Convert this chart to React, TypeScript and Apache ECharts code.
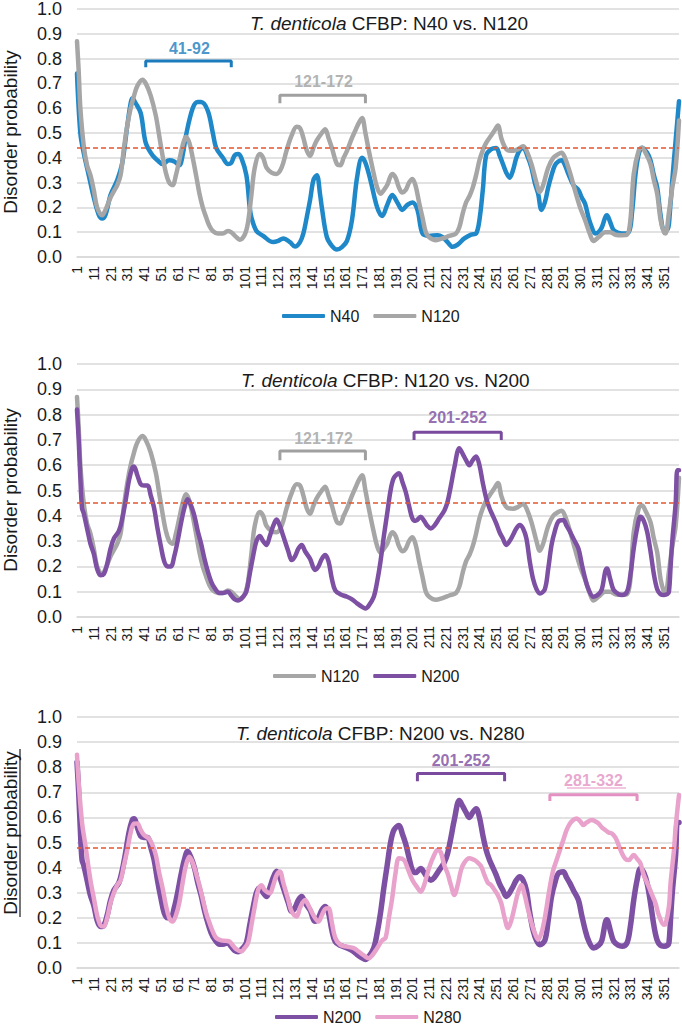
import React, { useEffect, useRef } from "react";
import * as echarts from "echarts";

// residue numbers 1..360 (category axis)
const categories: string[] = Array.from({ length: 360 }, (_, i) => String(i + 1));

// [residue, disorder probability]
const n40: [number, number][] = [
  [1, 0.74], [3, 0.5], [5, 0.42], [8, 0.33], [11, 0.24], [14, 0.17], [16, 0.155], [18, 0.17], [21, 0.25], [25, 0.31],
  [28, 0.38], [31, 0.53], [33, 0.62], [34, 0.64], [36, 0.62], [39, 0.58], [42, 0.46], [46, 0.41], [49, 0.39], [52, 0.375],
  [56, 0.39], [59, 0.385], [62, 0.37], [64, 0.41], [66, 0.49], [70, 0.6], [73, 0.625], [75, 0.625], [79, 0.59], [82, 0.5],
  [84, 0.44], [88, 0.4], [91, 0.375], [93, 0.38], [95, 0.41], [97, 0.415], [99, 0.4], [102, 0.33], [104, 0.2], [105, 0.16],
  [108, 0.105], [112, 0.085], [118, 0.06], [121, 0.065], [124, 0.075], [128, 0.06], [131, 0.042], [134, 0.06], [136, 0.095],
  [138, 0.16], [140, 0.23], [142, 0.31], [144, 0.33], [146, 0.25], [147, 0.2], [150, 0.08], [153, 0.045], [156, 0.03],
  [159, 0.04], [162, 0.065], [165, 0.15], [168, 0.32], [171, 0.4], [173, 0.38], [176, 0.31], [180, 0.2], [183, 0.165],
  [186, 0.21], [189, 0.25], [192, 0.22], [195, 0.19], [198, 0.21], [201, 0.22], [204, 0.19], [207, 0.095], [211, 0.085],
  [216, 0.088], [219, 0.08], [222, 0.06], [225, 0.041], [228, 0.05], [232, 0.075], [236, 0.09], [239, 0.095], [241, 0.15],
  [243, 0.27], [245, 0.41], [248, 0.435], [251, 0.44], [253, 0.41], [255, 0.375], [257, 0.34], [259, 0.32], [261, 0.35],
  [263, 0.4], [265, 0.43], [267, 0.44], [270, 0.4], [272, 0.36], [274, 0.3], [276, 0.255], [278, 0.19], [280, 0.22],
  [282, 0.28], [284, 0.33], [286, 0.37], [288, 0.385], [290, 0.39], [292, 0.37], [294, 0.335], [297, 0.29], [300, 0.27],
  [302, 0.24], [304, 0.215], [306, 0.16], [308, 0.12], [310, 0.095], [312, 0.1], [314, 0.12], [316, 0.16], [317, 0.168],
  [319, 0.14], [321, 0.108], [324, 0.097], [326, 0.095], [330, 0.1], [332, 0.18], [334, 0.33], [336, 0.415], [338, 0.441],
  [341, 0.42], [343, 0.39], [345, 0.33], [347, 0.28], [349, 0.17], [351, 0.11], [353, 0.11], [355, 0.22], [356, 0.31],
  [358, 0.47], [360, 0.628],
];

const n120: [number, number][] = [
  [1, 0.87], [2, 0.75], [3, 0.6], [5, 0.45], [7, 0.37], [9, 0.33], [11, 0.27], [13, 0.2], [16, 0.168], [18, 0.19],
  [21, 0.24], [23, 0.265], [25, 0.29], [27, 0.33], [29, 0.44], [31, 0.53], [33, 0.6], [35, 0.65], [37, 0.69], [40, 0.715],
  [42, 0.7], [45, 0.65], [48, 0.57], [50, 0.49], [52, 0.41], [54, 0.34], [56, 0.3], [58, 0.29], [60, 0.33], [62, 0.39],
  [64, 0.45], [66, 0.485], [68, 0.46], [70, 0.4], [72, 0.33], [74, 0.256], [76, 0.2], [78, 0.16], [80, 0.125], [82, 0.105],
  [85, 0.095], [88, 0.095], [91, 0.105], [93, 0.1], [96, 0.08], [98, 0.07], [101, 0.09], [103, 0.14], [105, 0.25],
  [107, 0.36], [110, 0.415], [112, 0.4], [114, 0.36], [117, 0.34], [120, 0.335], [123, 0.36], [126, 0.43], [129, 0.49],
  [132, 0.525], [134, 0.52], [136, 0.48], [138, 0.43], [140, 0.408], [142, 0.44], [144, 0.47], [147, 0.5], [149, 0.515],
  [151, 0.48], [153, 0.44], [156, 0.375], [158, 0.37], [160, 0.4], [162, 0.428], [165, 0.48], [167, 0.51], [169, 0.54],
  [171, 0.56], [173, 0.5], [175, 0.43], [178, 0.335], [180, 0.28], [182, 0.255], [184, 0.27], [186, 0.29], [189, 0.335],
  [191, 0.32], [193, 0.28], [195, 0.26], [197, 0.27], [199, 0.3], [201, 0.315], [203, 0.285], [205, 0.22], [207, 0.16],
  [209, 0.1], [211, 0.08], [215, 0.068], [219, 0.075], [223, 0.085], [227, 0.095], [229, 0.12], [231, 0.175], [233, 0.22],
  [235, 0.245], [237, 0.28], [239, 0.33], [241, 0.39], [243, 0.43], [245, 0.46], [248, 0.49], [250, 0.51], [252, 0.53],
  [254, 0.48], [256, 0.445], [258, 0.43], [261, 0.428], [264, 0.435], [267, 0.447], [269, 0.43], [272, 0.375], [275, 0.3],
  [277, 0.262], [279, 0.29], [282, 0.36], [285, 0.4], [288, 0.415], [290, 0.42], [292, 0.4], [295, 0.34], [298, 0.268],
  [301, 0.2], [304, 0.148], [307, 0.09], [309, 0.065], [312, 0.08], [316, 0.1], [319, 0.1], [322, 0.09], [326, 0.088],
  [329, 0.09], [331, 0.148], [333, 0.335], [336, 0.43], [338, 0.441], [340, 0.42], [343, 0.375], [345, 0.31], [347, 0.255],
  [349, 0.15], [351, 0.1], [352, 0.095], [354, 0.18], [356, 0.28], [358, 0.36], [360, 0.55],
];

const n200: [number, number][] = [
  [1, 0.82], [2, 0.7], [3, 0.55], [4, 0.43], [5, 0.41], [7, 0.35], [9, 0.29], [11, 0.25], [13, 0.19], [15, 0.165],
  [17, 0.17], [19, 0.21], [21, 0.27], [23, 0.31], [26, 0.34], [28, 0.39], [30, 0.46], [32, 0.54], [34, 0.59], [35, 0.595],
  [37, 0.56], [39, 0.525], [41, 0.52], [43, 0.52], [45, 0.48], [47, 0.43], [49, 0.35], [51, 0.28], [53, 0.22], [55, 0.2],
  [57, 0.2], [59, 0.24], [61, 0.3], [63, 0.37], [65, 0.43], [67, 0.465], [69, 0.44], [71, 0.4], [73, 0.34], [75, 0.29],
  [77, 0.23], [79, 0.18], [81, 0.14], [83, 0.115], [86, 0.095], [88, 0.095], [91, 0.1], [93, 0.085], [95, 0.07], [97, 0.065],
  [100, 0.08], [102, 0.1], [104, 0.17], [106, 0.24], [108, 0.3], [110, 0.32], [112, 0.3], [114, 0.285], [116, 0.32],
  [118, 0.36], [120, 0.385], [122, 0.36], [124, 0.32], [127, 0.26], [129, 0.225], [131, 0.24], [133, 0.27], [135, 0.285],
  [137, 0.26], [140, 0.23], [143, 0.186], [145, 0.2], [147, 0.23], [149, 0.245], [151, 0.22], [153, 0.15], [155, 0.105],
  [158, 0.09], [162, 0.08], [165, 0.07], [168, 0.054], [171, 0.04], [173, 0.034], [175, 0.045], [178, 0.08], [180, 0.14],
  [182, 0.22], [184, 0.32], [186, 0.41], [188, 0.5], [190, 0.55], [193, 0.568], [195, 0.535], [197, 0.495], [199, 0.44],
  [201, 0.39], [203, 0.38], [206, 0.396], [208, 0.38], [210, 0.36], [212, 0.35], [214, 0.36], [217, 0.39], [220, 0.42],
  [222, 0.456], [224, 0.52], [226, 0.59], [229, 0.667], [231, 0.645], [233, 0.62], [235, 0.6], [237, 0.62], [239, 0.634],
  [241, 0.6], [243, 0.53], [245, 0.47], [247, 0.43], [249, 0.4], [251, 0.37], [253, 0.335], [255, 0.31], [257, 0.285],
  [259, 0.3], [261, 0.324], [263, 0.35], [265, 0.364], [267, 0.35], [269, 0.31], [271, 0.22], [273, 0.15], [275, 0.11],
  [277, 0.093], [280, 0.11], [282, 0.19], [284, 0.285], [286, 0.34], [288, 0.377], [291, 0.383], [293, 0.36], [295, 0.337],
  [297, 0.31], [300, 0.271], [302, 0.21], [304, 0.153], [306, 0.11], [309, 0.08], [312, 0.09], [314, 0.11], [316, 0.18],
  [317, 0.192], [319, 0.15], [321, 0.107], [324, 0.09], [326, 0.087], [329, 0.1], [331, 0.166], [333, 0.27], [335, 0.35],
  [337, 0.396], [339, 0.38], [341, 0.337], [343, 0.26], [345, 0.17], [347, 0.11], [349, 0.09], [351, 0.087], [353, 0.09],
  [354, 0.1], [355, 0.2], [356, 0.3], [358, 0.45], [359, 0.58], [360, 0.58],
];

const n280: [number, number][] = [
  [1, 0.85], [2, 0.74], [4, 0.58], [6, 0.49], [9, 0.35], [11, 0.28], [13, 0.21], [15, 0.17], [17, 0.165], [19, 0.2],
  [21, 0.26], [23, 0.3], [25, 0.33], [27, 0.35], [29, 0.41], [31, 0.47], [33, 0.54], [35, 0.575], [37, 0.576], [39, 0.55],
  [41, 0.53], [44, 0.515], [46, 0.49], [48, 0.45], [50, 0.38], [52, 0.32], [54, 0.25], [56, 0.2], [58, 0.185], [60, 0.21],
  [62, 0.26], [64, 0.34], [66, 0.41], [68, 0.443], [70, 0.42], [72, 0.377], [74, 0.33], [76, 0.275], [78, 0.22], [80, 0.18],
  [82, 0.145], [84, 0.12], [87, 0.11], [90, 0.108], [92, 0.105], [94, 0.09], [96, 0.075], [99, 0.066], [101, 0.08],
  [103, 0.1], [105, 0.17], [107, 0.245], [109, 0.31], [111, 0.33], [113, 0.31], [116, 0.298], [118, 0.33], [120, 0.37],
  [122, 0.384], [124, 0.34], [127, 0.271], [129, 0.225], [132, 0.205], [134, 0.24], [137, 0.271], [139, 0.25], [142, 0.21],
  [145, 0.185], [147, 0.21], [149, 0.235], [151, 0.238], [153, 0.18], [155, 0.12], [158, 0.092], [162, 0.085], [166, 0.079],
  [169, 0.065], [172, 0.05], [175, 0.039], [177, 0.05], [180, 0.079], [183, 0.11], [185, 0.12], [187, 0.2], [189, 0.28],
  [191, 0.38], [193, 0.437], [196, 0.43], [198, 0.4], [201, 0.351], [204, 0.32], [206, 0.304], [208, 0.33], [211, 0.4],
  [214, 0.45], [216, 0.47], [218, 0.46], [220, 0.41], [222, 0.377], [224, 0.33], [226, 0.291], [228, 0.33], [230, 0.39],
  [232, 0.42], [235, 0.437], [238, 0.43], [240, 0.42], [242, 0.405], [244, 0.37], [246, 0.34], [248, 0.33], [250, 0.311],
  [252, 0.29], [254, 0.258], [256, 0.2], [258, 0.159], [260, 0.19], [262, 0.245], [264, 0.3], [266, 0.331], [268, 0.29],
  [270, 0.232], [272, 0.18], [274, 0.139], [276, 0.113], [278, 0.14], [280, 0.2], [283, 0.324], [285, 0.39], [287, 0.43],
  [289, 0.47], [291, 0.51], [293, 0.55], [295, 0.576], [297, 0.59], [299, 0.596], [301, 0.585], [303, 0.57], [305, 0.58],
  [308, 0.59], [310, 0.585], [312, 0.576], [314, 0.56], [316, 0.55], [318, 0.54], [320, 0.536], [322, 0.52], [324, 0.49],
  [326, 0.457], [328, 0.435], [330, 0.43], [333, 0.45], [335, 0.435], [337, 0.417], [339, 0.37], [342, 0.324], [344, 0.29],
  [346, 0.258], [348, 0.21], [351, 0.172], [352, 0.175], [354, 0.245], [355, 0.34], [357, 0.47], [358, 0.56], [360, 0.689],
];

const panelTitles = ["N40 vs. N120", "N120 vs. N200", "N200 vs. N280"];
const panelSeries = [["N40", "N120"], ["N120", "N200"], ["N200", "N280"]];
const thresholds = [0.44, 0.45, 0.48];
const yTicks = [0, 0.1, 0.2, 0.3, 0.4, 0.5, 0.6, 0.7, 0.8, 0.9, 1.0];
const yAxisTitle = "Disorder probability";

// bracket annotations
const bracketPanel = [0, 0, 1, 1, 2, 2];
const bracketText = ["41-92", "121-172", "121-172", "201-252", "201-252", "281-332"];
const bracketFrom = [42, 122, 122, 202, 204, 283];
const bracketTo = [93, 173, 173, 254, 256, 335];
const bracketLineY = [0.79, 0.652, 0.656, 0.73, 0.775, 0.69];
const bracketTickY = [0.765, 0.62, 0.62, 0.7, 0.744, 0.665];
const bracketLabelY = [0.84, 0.708, 0.706, 0.79, 0.828, 0.748];

const COLORS: Record<string, string> = {
  N40: "#1f88c9",
  N120: "#a6a6a6",
  N200: "#7d50a4",
  N280: "#e8a2cb",
};
const BRACKET_COLORS = ["#1b7bbd", "#a0a0a0", "#a0a0a0", "#7a4a9e", "#7a4a9e", "#e391c2"];

const DATA: Record<string, [number, number][]> = { N40: n40, N120: n120, N200: n200, N280: n280 };

const FONT = "'Liberation Sans', Arial, sans-serif";
const TXT = "#1a1a1a";
const GRID_TOP = [7, 364, 717];
const GRID_H = [250, 253, 251];
const TITLE_LEFT = [245, 236, 231];
const LEGEND_LEFT = [277, 268, 270];
const LEGEND_TOP = [303, 663, 1004];
const YNAME_CY = [132, 490, 833];

export default function App() {
  const ref = useRef<HTMLDivElement>(null);
  useEffect(() => {
    if (!ref.current) return;
    const chart = echarts.init(ref.current, undefined, { renderer: "svg" });

    const grids = GRID_TOP.map((t, i) => ({ left: 77, right: 3, top: t, height: GRID_H[i], containLabel: false }));
    const xAxes = GRID_TOP.map((_, i) => ({
      type: "category",
      gridIndex: i,
      data: categories,
      boundaryGap: false,
      axisLine: { show: true, lineStyle: { color: "#d9d9d9", width: 1.5 } },
      axisTick: { show: false },
      axisLabel: { interval: 9, rotate: 90, fontSize: 14, color: TXT, fontFamily: FONT, margin: 9 },
      splitLine: { show: false },
    }));
    const yAxes = GRID_TOP.map((_, i) => ({
      type: "value",
      gridIndex: i,
      min: yTicks[0],
      max: yTicks[yTicks.length - 1],
      interval: 0.1,
      axisLine: { show: false },
      axisTick: { show: false },
      axisLabel: {
        fontSize: 18,
        color: TXT,
        fontFamily: FONT,
        margin: 15,
        formatter: (v: number) => v.toFixed(1),
      },
      splitLine: { show: true, lineStyle: { color: "#d9d9d9", width: 1.5 } },
    }));

    const series: any[] = [];
    panelSeries.forEach((names, p) => {
      names.forEach((name, k) => {
        series.push({
          name,
          type: "line",
          xAxisIndex: p,
          yAxisIndex: p,
          data: DATA[name].map(([r, v]) => [r - 1, v]),
          smooth: 0.35,
          symbol: "none",
          lineStyle: { color: COLORS[name], width: p === 2 && k === 0 ? 5.5 : 4.5, cap: "round", join: "round" },
          itemStyle: { color: COLORS[name] },
          z: 3 + k,
          markLine:
            k === 0
              ? {
                  silent: true,
                  symbol: "none",
                  label: { show: false },
                  lineStyle: { color: "#e4572e", type: [5, 3], width: 1.5 },
                  data: [{ yAxis: thresholds[p] }],
                  z: 10,
                }
              : undefined,
        });
      });
    });

    bracketText.forEach((txt, i) => {
      const p = bracketPanel[i];
      const c = BRACKET_COLORS[i];
      series.push({
        name: "bracket" + i,
        type: "line",
        xAxisIndex: p,
        yAxisIndex: p,
        symbol: "none",
        silent: true,
        smooth: false,
        lineStyle: { color: c, width: 3 },
        data: [
          [bracketFrom[i] - 1, bracketTickY[i]],
          [bracketFrom[i] - 1, bracketLineY[i]],
          [bracketTo[i] - 1, bracketLineY[i]],
          [bracketTo[i] - 1, bracketTickY[i]],
        ],
        z: 6,
      });
      series.push({
        name: "bracketLabel" + i,
        type: "scatter",
        xAxisIndex: p,
        yAxisIndex: p,
        symbolSize: 0,
        silent: true,
        data: [[Math.round((bracketFrom[i] + bracketTo[i]) / 2) - 1, bracketLabelY[i]]],
        label: {
          show: true,
          position: "inside",
          formatter: txt,
          color: c,
          fontWeight: "bold",
          fontSize: 16,
          fontFamily: FONT,
        },
        z: 7,
      });
    });

    const titles = panelTitles.map((t, i) => ({
      text: "{i|T. denticola} CFBP: " + t,
      left: TITLE_LEFT[i],
      top: GRID_TOP[i] + 2,
      textStyle: {
        fontSize: 19,
        fontWeight: "normal",
        color: TXT,
        fontFamily: FONT,
        rich: { i: { fontStyle: "italic", fontSize: 19, color: TXT, fontFamily: FONT } },
      },
    }));

    const legends = panelSeries.map((names, i) => ({
      data: names.map((n) => ({ name: n, icon: "roundRect" })),
      left: LEGEND_LEFT[i],
      top: LEGEND_TOP[i],
      itemWidth: 43,
      itemHeight: 4,
      itemGap: 14,
      textStyle: { fontSize: 16, color: TXT, fontFamily: FONT },
      selectedMode: false,
    }));

    const graphic: any[] = YNAME_CY.map((cy) => ({
      type: "text",
      x: 10,
      y: cy,
      rotation: Math.PI / 2,
      silent: true,
      style: {
        text: yAxisTitle,
        fill: TXT,
        font: `19px ${FONT}`,
        align: "center",
        verticalAlign: "middle",
      },
    }));
    // underlines used in the third panel
    graphic.push(
      { type: "line", shape: { x1: 20, y1: 749, x2: 20, y2: 917 }, style: { stroke: TXT, lineWidth: 1.2 }, silent: true },
      { type: "line", shape: { x1: 432, y1: 767, x2: 490, y2: 767 }, style: { stroke: BRACKET_COLORS[4], lineWidth: 1.2 }, silent: true },
      { type: "line", shape: { x1: 567, y1: 788, x2: 626, y2: 788 }, style: { stroke: BRACKET_COLORS[5], lineWidth: 1.2 }, silent: true }
    );

    chart.setOption({
      animation: false,
      backgroundColor: "#ffffff",
      title: titles,
      legend: legends,
      grid: grids,
      xAxis: xAxes,
      yAxis: yAxes,
      series,
      graphic,
    });
    return () => chart.dispose();
  }, []);
  return (
    <div
      ref={ref}
      style={{ position: "absolute", left: 0, top: 0, width: 682, height: 1030, background: "#fff" }}
    />
  );
}
